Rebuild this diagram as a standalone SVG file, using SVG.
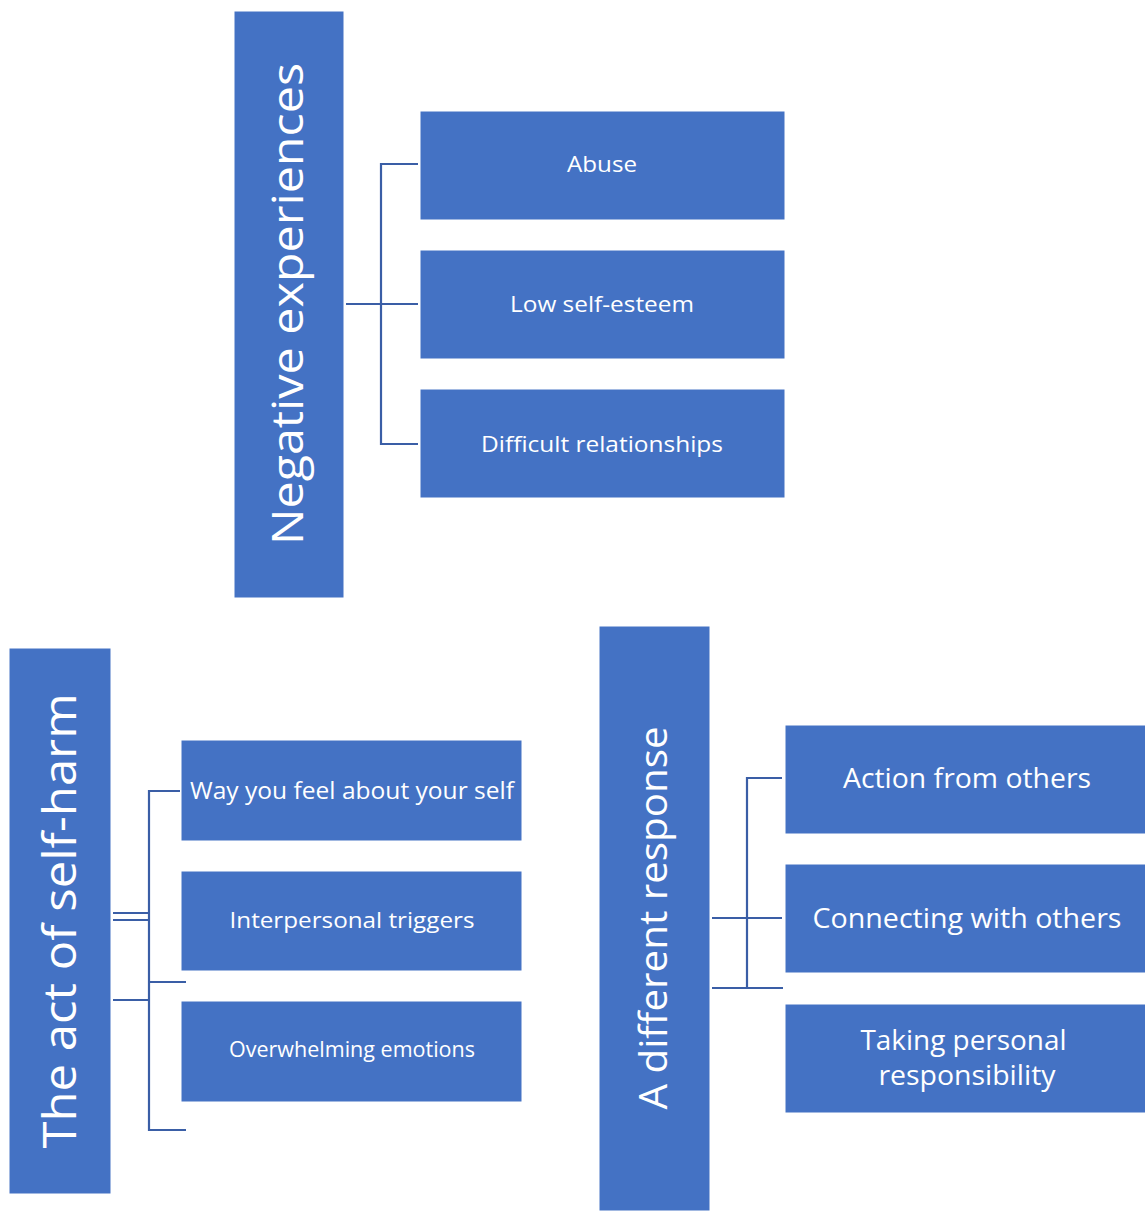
<svg xmlns="http://www.w3.org/2000/svg" width="1145" height="1215" viewBox="0 0 1145 1215">
  <style>
    .box { fill: #4472C4; stroke: #ffffff; stroke-width: 1; }
    .lbl { fill: #ffffff; font-family: "Open Sans", "Noto Sans", "DejaVu Sans", sans-serif; text-anchor: middle; }
    .wire { stroke: #3A5EA6; stroke-width: 2.2; fill: none; stroke-linecap: butt; }
  </style>
  <rect x="0" y="0" width="1145" height="1215" fill="#ffffff"/>

  <!-- connectors -->
  <g id="connectors">
    <!-- Negative experiences branch -->
    <path class="wire" d="M346 304 H418 M418 164 H381 V444 H418"/>
    <path class="wire" d="M346 304 H381" stroke-width="3.2"/>
    <!-- The act of self-harm branch -->
    <path class="wire" d="M180 791 H149 V1130 H186 M149 982 H186"/>
    <path class="wire" d="M113 913 H149 M113 920 H149 M113 1000 H149"/>
    <!-- A different response branch -->
    <path class="wire" d="M782 778 H747 V988 M712 918 H782 M712 988 H783"/>
  </g>

  <!-- root: Negative experiences -->
  <g id="negative-experiences">
    <rect class="box" x="234" y="11" width="110" height="587"/>
    <text class="lbl" font-size="44" transform="translate(303,304) rotate(-90)" textLength="482" lengthAdjust="spacingAndGlyphs">Negative experiences</text>
  </g>
  <g id="abuse">
    <rect class="box" x="420" y="111" width="365" height="109"/>
    <text class="lbl" x="602" y="172" font-size="22" textLength="70" lengthAdjust="spacingAndGlyphs">Abuse</text>
  </g>
  <g id="low-self-esteem">
    <rect class="box" x="420" y="250" width="365" height="109"/>
    <text class="lbl" x="602" y="312" font-size="22" textLength="184" lengthAdjust="spacingAndGlyphs">Low self-esteem</text>
  </g>
  <g id="difficult-relationships">
    <rect class="box" x="420" y="389" width="365" height="109"/>
    <text class="lbl" x="602" y="452" font-size="22" textLength="242" lengthAdjust="spacingAndGlyphs">Difficult relationships</text>
  </g>

  <!-- root: The act of self-harm -->
  <g id="act-of-self-harm">
    <rect class="box" x="9" y="648" width="102" height="546"/>
    <text class="lbl" font-size="46" transform="translate(76,921) rotate(-90)" textLength="455" lengthAdjust="spacingAndGlyphs">The act of self-harm</text>
  </g>
  <g id="way-you-feel">
    <rect class="box" x="181" y="740" width="341" height="101"/>
    <text class="lbl" x="352" y="799" font-size="24" textLength="324" lengthAdjust="spacingAndGlyphs">Way you feel about your self</text>
  </g>
  <g id="interpersonal-triggers">
    <rect class="box" x="181" y="871" width="341" height="100"/>
    <text class="lbl" x="352" y="928" font-size="22" textLength="245" lengthAdjust="spacingAndGlyphs">Interpersonal triggers</text>
  </g>
  <g id="overwhelming-emotions">
    <rect class="box" x="181" y="1001" width="341" height="101"/>
    <text class="lbl" x="352" y="1057" font-size="21" textLength="246" lengthAdjust="spacingAndGlyphs">Overwhelming emotions</text>
  </g>

  <!-- root: A different response -->
  <g id="different-response">
    <rect class="box" x="599" y="626" width="111" height="585"/>
    <text class="lbl" font-size="38" transform="translate(667,918) rotate(-90)" textLength="383" lengthAdjust="spacingAndGlyphs">A different response</text>
  </g>
  <g id="action-from-others">
    <rect class="box" x="785" y="725" width="362" height="109"/>
    <text class="lbl" x="967" y="788" font-size="27" textLength="248" lengthAdjust="spacingAndGlyphs">Action from others</text>
  </g>
  <g id="connecting-with-others">
    <rect class="box" x="785" y="864" width="362" height="109"/>
    <text class="lbl" x="967" y="928" font-size="27" textLength="309" lengthAdjust="spacingAndGlyphs">Connecting with others</text>
  </g>
  <g id="taking-personal-responsibility">
    <rect class="box" x="785" y="1004" width="362" height="109"/>
    <text class="lbl" font-size="27">
      <tspan x="967" y="1050" textLength="206" lengthAdjust="spacingAndGlyphs">Taking personal</tspan>
      <tspan x="967" y="1085" textLength="177" lengthAdjust="spacingAndGlyphs">responsibility</tspan>
    </text>
  </g>
</svg>
